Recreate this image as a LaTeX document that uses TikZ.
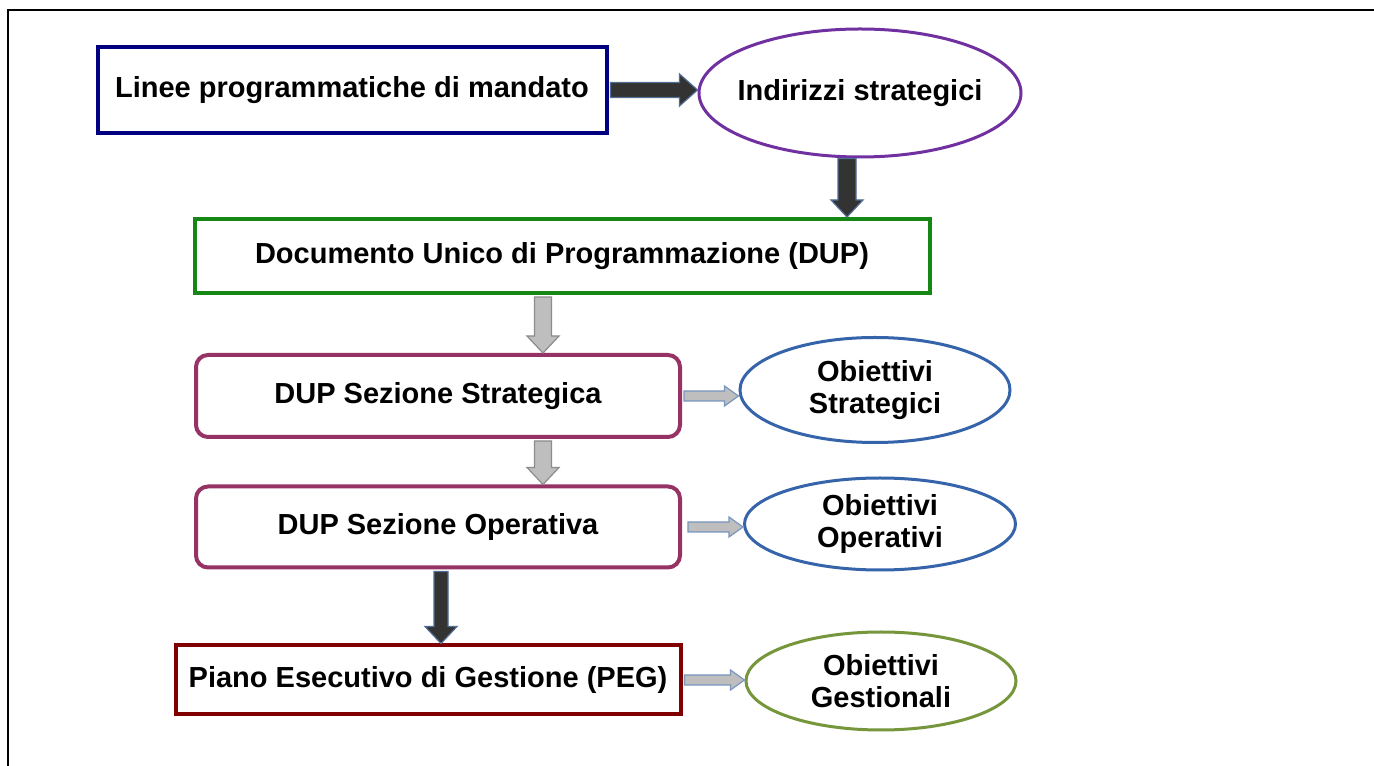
\documentclass[tikz,border=0pt]{standalone}
\usepackage{fontspec}
\setmainfont{Liberation Sans}
\usetikzlibrary{shapes.geometric,calc}
\definecolor{cnavy}{RGB}{0,0,128}
\definecolor{cpurple}{RGB}{112,48,160}
\definecolor{cgreen}{RGB}{20,135,20}
\definecolor{cmaroon}{RGB}{150,50,100}
\definecolor{cblue}{RGB}{54,100,170}
\definecolor{cdred}{RGB}{128,0,0}
\definecolor{colive}{RGB}{118,150,60}
\definecolor{cdark}{RGB}{51,51,51}
\definecolor{cdarkline}{RGB}{80,110,150}
\definecolor{cgrayfill}{RGB}{190,190,190}
\definecolor{cgrayline}{RGB}{140,140,140}
\definecolor{cgrayblue}{RGB}{120,150,190}
\tikzset{
  txt/.style={font=\fontsize{29}{32}\selectfont\bfseries, align=center, inner sep=0pt},
  sqbox/.style={txt, draw, line width=4pt, fill=white},
  rbox/.style={txt, draw=cmaroon, line width=4pt, fill=white, rounded corners=12pt},
  ell/.style={txt, ellipse, draw, line width=3pt, fill=white},
  darkarrow/.style={fill=cdark, draw=cdarkline, line width=1.2pt},
  grayarrow/.style={fill=cgrayfill, draw=cgrayline, line width=1.2pt},
  grayharrow/.style={fill=cgrayfill, draw=cgrayblue, line width=1.2pt}
}
% horizontal block arrow: style, from, to, shaft half, head half, head length
\newcommand{\harr}[6]{%
  \filldraw[#1] let \p1=(#2), \p2=(#3) in
   (\x1,\y1+#4) -- (\x2-#6,\y1+#4) -- (\x2-#6,\y1+#5) -- (\x2,\y1) --
   (\x2-#6,\y1-#5) -- (\x2-#6,\y1-#4) -- (\x1,\y1-#4) -- cycle;}
% vertical (downward) block arrow
\newcommand{\varr}[6]{%
  \filldraw[#1] let \p1=(#2), \p2=(#3) in
   (\x1-#4,\y1) -- (\x1-#4,\y2+#6) -- (\x1-#5,\y2+#6) -- (\x1,\y2) --
   (\x1+#5,\y2+#6) -- (\x1+#4,\y2+#6) -- (\x1+#4,\y1) -- cycle;}
\begin{document}
\begin{tikzpicture}[x=1pt,y=1pt]
\useasboundingbox (0,0) rectangle (1374,766);
\fill[white] (0,0) rectangle (1374,766);
\draw[line width=2pt] (8,0) -- (8,756) -- (1374,756);

\node[sqbox, draw=cnavy, minimum width=509pt, minimum height=86pt] (b1) at (352,676) {Linee programmatiche di mandato};
\node[ell, draw=cpurple, inner xsep=-12pt, minimum width=322pt, minimum height=128pt] (e1) at (860,673) {Indirizzi strategici};
\node[sqbox, draw=cgreen, minimum width=735pt, minimum height=74pt] (dup) at (562,510) {Documento Unico di Programmazione (DUP)};
\node[rbox, minimum width=484pt, minimum height=82pt] (ss) at (438,370) {DUP Sezione Strategica};
\node[ell, draw=cblue, minimum width=270pt, minimum height=105pt] (os) at (875,376) {Obiettivi\\Strategici};
\node[rbox, minimum width=484pt, minimum height=81pt] (so) at (438,239) {DUP Sezione Operativa};
\node[ell, draw=cblue, inner ysep=-2pt, minimum width=271pt, minimum height=92pt] (oo) at (880,242) {Obiettivi\\Operativi};
\node[sqbox, draw=cdred, minimum width=505pt, minimum height=69pt] (peg) at (428,86) {Piano Esecutivo di Gestione (PEG)};
\node[ell, draw=colive, minimum width=270pt, minimum height=98pt] (og) at (881,85) {Obiettivi\\Gestionali};

\coordinate (a2) at ($(e1.south)+(-13,0)$);
\coordinate (g1) at ($(dup.south)+(-19,-2)$);
\coordinate (g2) at ($(g1 |- ss.south)+(0,-2)$);
\coordinate (a5) at ($(so.south)+(3,-2)$);

\harr{darkarrow}{$(b1.east)+(2,0)$}{e1.west}{7.5pt}{16pt}{18pt}
\varr{darkarrow}{a2}{dup.north}{9pt}{16pt}{17pt}
\varr{grayarrow}{g1}{ss.north}{8.5pt}{16pt}{17pt}
\harr{grayharrow}{$(ss.east)+(2,0)$}{os.west}{5pt}{10pt}{14pt}
\varr{grayarrow}{g2}{so.north}{8.5pt}{16pt}{17pt}
\harr{grayharrow}{$(so.east)+(6,0)$}{oo.west}{5pt}{10pt}{14pt}
\varr{darkarrow}{a5}{peg.north}{7pt}{16pt}{17pt}
\harr{grayharrow}{$(peg.east)+(2,0)$}{og.west}{5pt}{10pt}{14pt}
\end{tikzpicture}
\end{document}
